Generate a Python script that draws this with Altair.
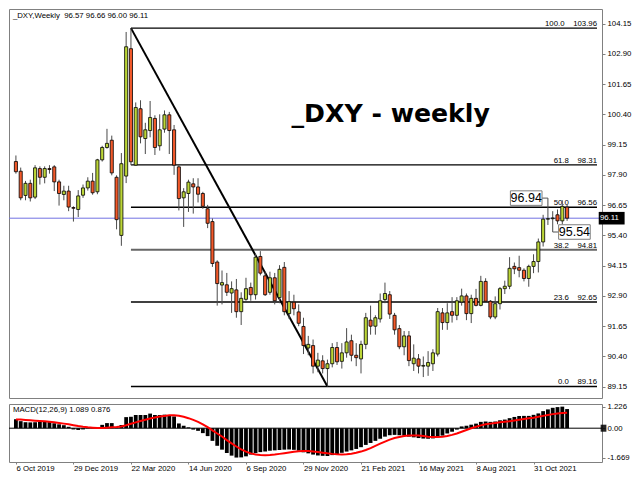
import altair as alt
import pandas as pd

# ---------------- data ----------------
opens = [98.45, 98.05, 97.05, 97.55, 96.98, 98.16, 97.80, 98.16, 98.23, 97.61,
         97.09, 97.23, 96.55, 96.47, 97.06, 97.36, 97.64, 97.20, 98.52, 99.03,
         99.33, 97.80, 95.40, 97.85, 103.11, 98.30, 100.63, 99.40, 99.73, 100.23,
         99.10, 99.79, 100.38, 99.76, 98.23, 96.95, 97.13, 97.53, 97.40, 97.13,
         96.50, 95.97, 94.30, 93.35, 93.36, 93.02, 93.15, 92.25, 92.76, 93.25,
         92.95, 94.53, 93.73, 93.05, 93.65, 92.83, 94.08, 92.17, 92.64, 92.24,
         91.64, 90.75, 90.85, 90.00, 90.22, 89.90, 90.10, 90.77, 90.20, 90.55,
         91.05, 90.45, 90.30, 90.90, 91.90, 91.65, 91.95, 92.75, 92.95, 92.10,
         91.55, 90.80, 91.25, 90.10, 90.30, 90.00, 90.00, 90.10, 90.50, 92.20,
         91.80, 92.25, 92.10, 92.65, 92.90, 92.17, 92.80, 92.51, 93.50, 92.68,
         92.03, 92.58, 93.20, 93.30, 94.12, 94.07, 93.96, 93.62, 94.12, 94.32,
         95.13, 96.07, 96.09, 96.25, 96.00, 96.57]
highs = [98.70, 98.20, 97.65, 97.70, 98.30, 98.25, 98.25, 98.30, 98.30, 97.70,
         97.45, 97.45, 96.60, 97.27, 97.50, 97.80, 97.98, 98.56, 99.10, 99.80,
         99.52, 97.88, 98.80, 103.80, 103.96, 100.89, 100.98, 100.05, 100.95, 100.36,
         100.40, 100.56, 100.50, 99.96, 98.30, 97.35, 97.70, 97.76, 97.76, 97.20,
         96.66, 96.10, 94.37, 93.95, 93.85, 93.50, 93.60, 93.05, 93.65, 93.45,
         94.65, 94.75, 93.90, 93.90, 93.85, 94.17, 94.30, 93.10, 92.95, 92.55,
         92.00, 91.25, 91.10, 90.55, 90.45, 90.27, 90.95, 91.00, 90.95, 91.57,
         91.30, 90.95, 91.05, 92.20, 92.50, 92.10, 93.00, 93.45, 93.10, 92.20,
         91.70, 91.45, 91.45, 90.90, 90.50, 90.40, 90.62, 90.70, 92.40, 92.40,
         92.60, 92.85, 92.85, 93.20, 93.00, 92.95, 93.19, 93.73, 93.63, 92.73,
         92.88, 93.27, 93.53, 94.50, 94.28, 94.56, 94.04, 94.19, 94.62, 95.27,
         96.25, 96.94, 96.40, 96.47, 96.85, 96.66]
lows = [97.95, 96.85, 96.85, 96.80, 96.90, 97.50, 97.55, 97.95, 97.23, 96.63,
        96.85, 96.40, 95.97, 96.16, 96.95, 97.25, 97.08, 97.10, 98.45, 98.98,
        97.88, 95.65, 94.97, 97.56, 98.30, 98.28, 99.20, 98.76, 99.45, 98.72,
        98.90, 99.64, 98.76, 97.90, 96.43, 95.75, 96.37, 96.30, 96.76, 96.50,
        95.70, 94.10, 92.50, 92.55, 92.90, 92.20, 92.00, 91.70, 92.70, 92.70,
        92.75, 93.75, 92.90, 92.95, 92.55, 92.60, 92.10, 91.95, 92.10, 91.65,
        90.50, 90.45, 89.70, 89.75, 89.70, 89.16, 89.95, 90.05, 89.90, 90.35,
        90.20, 90.00, 89.70, 90.70, 91.30, 91.30, 91.80, 92.60, 91.95, 91.30,
        90.70, 90.45, 90.00, 89.80, 89.70, 89.55, 89.60, 89.80, 90.40, 91.50,
        91.50, 91.80, 91.90, 92.50, 91.90, 91.78, 92.47, 92.47, 92.66, 91.94,
        91.94, 92.34, 92.98, 93.18, 93.80, 93.67, 93.50, 93.28, 93.84, 93.87,
        94.94, 95.83, 95.54, 95.86, 95.85, 96.00]
closes = [98.03, 96.95, 97.55, 96.95, 98.19, 97.80, 98.16, 98.12, 97.61, 97.13,
          97.23, 96.57, 96.52, 97.03, 97.36, 97.64, 97.16, 98.52, 99.03, 99.20,
          97.98, 96.05, 98.36, 103.19, 98.44, 100.68, 99.47, 99.76, 100.27, 99.03,
          99.76, 100.38, 99.73, 98.30, 96.92, 97.20, 97.60, 97.40, 97.10, 96.60,
          95.90, 94.24, 93.41, 93.45, 93.05, 93.20, 92.25, 92.80, 93.20, 92.95,
          94.50, 93.84, 92.95, 93.65, 92.70, 94.00, 92.25, 92.66, 92.37, 91.77,
          90.85, 90.90, 90.00, 90.25, 89.90, 90.10, 90.77, 90.18, 90.55, 91.00,
          90.45, 90.35, 90.90, 92.00, 91.65, 92.00, 92.70, 93.00, 92.15, 91.50,
          90.80, 91.25, 90.23, 90.33, 90.00, 90.03, 90.15, 90.55, 92.25, 91.80,
          92.20, 92.10, 92.70, 92.90, 92.17, 92.80, 92.51, 93.50, 92.68, 92.03,
          92.58, 93.20, 93.30, 94.04, 94.02, 93.96, 93.62, 94.12, 94.32, 95.13,
          96.07, 96.09, 96.12, 96.00, 96.60, 96.11]

macd_main = [0.51, 0.40, 0.34, 0.33, 0.34, 0.36, 0.36, 0.35, 0.28, 0.22,
             0.17, 0.08, -0.07, -0.10, -0.07, -0.02, 0.02, 0.06, 0.19, 0.29,
             0.29, 0.05, 0.18, 0.63, 0.65, 0.75, 0.75, 0.75, 0.83, 0.75,
             0.75, 0.77, 0.75, 0.67, 0.27, 0.14, 0.05, -0.08, -0.15, -0.28,
             -0.45, -0.72, -1.00, -1.22, -1.41, -1.56, -1.669, -1.66, -1.60, -1.50,
             -1.42, -1.36, -1.32, -1.28, -1.26, -1.24, -1.22, -1.21, -1.23, -1.28,
             -1.37, -1.43, -1.50, -1.55, -1.57, -1.58, -1.53, -1.47, -1.40, -1.33,
             -1.26, -1.18, -1.08, -0.95, -0.84, -0.72, -0.60, -0.48, -0.40, -0.38,
             -0.40, -0.42, -0.48, -0.52, -0.56, -0.59, -0.60, -0.58, -0.48, -0.42,
             -0.30, -0.20, -0.08, 0.10, 0.14, 0.20, 0.26, 0.36, 0.38, 0.36,
             0.38, 0.45, 0.49, 0.57, 0.64, 0.69, 0.70, 0.70, 0.76, 0.84,
             0.97, 1.07, 1.16, 1.20, 1.226, 1.089]
macd_signal = [0.50, 0.49, 0.47, 0.45, 0.43, 0.41, 0.39, 0.37, 0.34, 0.30,
               0.26, 0.22, 0.17, 0.12, 0.08, 0.05, 0.03, 0.01, 0.01, 0.03,
               0.05, 0.07, 0.10, 0.17, 0.25, 0.33, 0.41, 0.48, 0.55, 0.61,
               0.66, 0.70, 0.73, 0.74, 0.71, 0.65, 0.57, 0.47, 0.36, 0.22,
               0.06, -0.12, -0.30, -0.47, -0.68, -0.86, -1.04, -1.20, -1.33, -1.43,
               -1.50, -1.53, -1.54, -1.53, -1.50, -1.46, -1.42, -1.38, -1.34, -1.31,
               -1.30, -1.30, -1.32, -1.35, -1.39, -1.43, -1.46, -1.48, -1.49, -1.48,
               -1.45, -1.40, -1.33, -1.24, -1.13, -1.00, -0.88, -0.76, -0.65, -0.56,
               -0.50, -0.45, -0.42, -0.41, -0.42, -0.45, -0.48, -0.50, -0.50, -0.48,
               -0.44, -0.38, -0.30, -0.20, -0.10, 0.00, 0.08, 0.16, 0.22, 0.26,
               0.30, 0.34, 0.37, 0.40, 0.44, 0.48, 0.52, 0.56, 0.60, 0.65,
               0.70, 0.75, 0.80, 0.84, 0.86, 0.876]

tick_index = [0, 12, 24, 36, 48, 60, 72, 84, 96, 108]
tick_labels = ["6 Oct 2019", "29 Dec 2019", "22 Mar 2020", "14 Jun 2020", "6 Sep 2020",
               "29 Nov 2020", "21 Feb 2021", "16 May 2021", "8 Aug 2021", "31 Oct 2021"]
price_ticks = [104.15, 102.90, 101.65, 100.40, 99.15, 97.90, 96.65, 95.40,
               94.15, 92.90, 91.65, 90.40, 89.15]
macd_ticks = [1.226, 0.0, -1.669]
macd_tick_labels = ["1.226", "0.00", "-1.669"]

fib_levels = ["100.0", "61.8", "50.0", "38.2", "23.6", "0.0"]
fib_prices = [103.96, 98.31, 96.56, 94.81, 92.65, 89.16]
fib_values = ["103.96", "98.31", "96.56", "94.81", "92.65", "89.16"]

trend_index = [24, 65]
trend_price = [103.96, 89.16]

last_price = 96.11
callout_values = [96.94, 95.54]
callout_bars = [111, 112]
header_text = "_DXY,Weekly\u00a0\u00a096.57 96.66 96.00 96.11"
macd_text = "MACD(12,26,9) 1.089 0.876"
title_text = "_DXY - weekly"

# ---------------- layout ----------------
W, H_MAIN, H_MACD = 593, 389, 58
X_MIN, X_MAX = -0.4, 121.24
FONT = "Liberation Sans"
FS = 7.8

xs = alt.Scale(domain=[X_MIN, X_MAX], nice=False, zero=False)
ys = alt.Scale(domain=[88.685, 104.749], nice=False, zero=False)
ms = alt.Scale(domain=[-1.922, 1.376], nice=False, zero=False)

y_axis_main = alt.Axis(orient="right", values=price_ticks, format=".2f", tickSize=3,
                       labelPadding=2, domain=False, title=None, labelOverlap=False, grid=False)
labels_js = "[" + ",".join("'%s'" % s for s in tick_labels) + "]"
pos_js = "[" + ",".join(str(p) for p in tick_index) + "]"
x_axis_macd = alt.Axis(values=tick_index, labelExpr="%s[indexof(%s, datum.value)]" % (labels_js, pos_js),
                       labelAlign="left", labelBaseline="top", labelFlush=False, tickSize=2,
                       labelPadding=0, domain=False, grid=False, title=None, labelOverlap=False)
mlab_js = "[" + ",".join("'%s'" % s for s in macd_tick_labels) + "]"
mpos_js = "[" + ",".join(str(p) for p in macd_ticks) + "]"
y_axis_macd = alt.Axis(orient="right", values=macd_ticks,
                       labelExpr="%s[indexof(%s, datum.value)]" % (mlab_js, mpos_js),
                       tickSize=3, labelPadding=2, domain=False, title=None, grid=False,
                       labelOverlap=False, labelBound=False, zindex=0)


def XM(f):
    return alt.X(f + ":Q", scale=xs, axis=None)


def YP(f):
    return alt.Y(f + ":Q", scale=ys, axis=y_axis_main)


def XB(f):
    return alt.X(f + ":Q", scale=xs, axis=x_axis_macd)


def YM(f):
    return alt.Y(f + ":Q", scale=ms, axis=y_axis_macd)


n = len(closes)
candles = pd.DataFrame({
    "idx": list(range(n)), "open": opens, "high": highs, "low": lows, "close": closes,
})
candles["dir"] = ["up" if c >= o else "down" for o, c in zip(opens, closes)]

macd_df = pd.DataFrame({"idx": list(range(n)), "macd": macd_main, "signal": macd_signal})

fib_df = pd.DataFrame({"level": fib_levels, "price": fib_prices, "value": fib_values})
fib_df["start"] = trend_index[0]
fib_df["end"] = X_MAX
fib_df["label"] = fib_df["level"] + "\u00a0\u00a0\u00a0\u00a0" + fib_df["value"]

trend_df = pd.DataFrame({"idx": trend_index, "price": trend_price})

# callout boxes (first one left of its bar, second right of its bar)
box_w, gap, half_h = 6.6, 1.23, 0.30
cb = []
for k, (v, b) in enumerate(zip(callout_values, callout_bars)):
    if k == 0:
        x2 = b - gap
        x1 = x2 - box_w
        edge = x2
    else:
        x1 = b + gap
        x2 = x1 + box_w
        edge = x1
    cb.append({"value": v, "bar": b, "x1": x1, "x2": x2, "edge": edge,
               "xc": (x1 + x2) / 2, "lo": v - half_h, "hi": v + half_h,
               "txt": "%.2f" % v})
callout_df = pd.DataFrame(cb)

last_df = pd.DataFrame({"p": [last_price], "lo": [last_price - 0.26], "hi": [last_price + 0.26],
                        "x1": [121.6], "x2": [127.0], "xt": [121.85],
                        "txt": ["%.2f" % last_price]})

# ---------------- main panel ----------------
fib_rules = alt.Chart(fib_df).mark_rule().encode(
    x=XM("start"), x2="end", y=YP("price"),
    color=alt.condition("datum.level == '38.2'", alt.value("#666666"), alt.value("black")),
    strokeWidth=alt.condition("datum.level == '38.2'", alt.value(2), alt.value(1.4)),
)
fib_text = alt.Chart(fib_df).mark_text(align="right", baseline="alphabetic", dy=-2,
                                       font=FONT, fontSize=FS, color="black").encode(
    x=XM("end"), y=YP("price"), text="label:N")

blue_line = alt.Chart(last_df).mark_rule(color="#7272E2", strokeWidth=1).encode(y=YP("p"))

trend = alt.Chart(trend_df).mark_line(color="black", strokeWidth=2).encode(
    x=XM("idx"), y=YP("price"))

wicks = alt.Chart(candles).mark_rule(color="#4a4a4a", strokeWidth=1).encode(
    x=XM("idx"), y=YP("low"), y2="high")
bodies = alt.Chart(candles).mark_bar(width=3.1, stroke="black", strokeWidth=0.8).encode(
    x=XM("idx"), y=YP("open"), y2="close",
    color=alt.Color("dir:N", scale=alt.Scale(domain=["up", "down"], range=["#BCD637", "#F2592A"]),
                    legend=None))

conn = alt.Chart(callout_df).mark_rule(color="#555555", strokeWidth=1).encode(
    x=XM("bar"), x2="edge", y=YP("value"))
boxes = alt.Chart(callout_df).mark_rect(fill="white", stroke="#7f7f7f", strokeWidth=1).encode(
    x=XM("x1"), x2="x2", y=YP("lo"), y2="hi")
box_text = alt.Chart(callout_df).mark_text(font=FONT, fontSize=12.5, color="black",
                                           baseline="middle", align="center").encode(
    x=XM("xc"), y=YP("value"), text="txt:N")

price_box = alt.Chart(last_df).mark_rect(fill="black").encode(
    x=XM("x1"), x2="x2", y=YP("lo"), y2="hi")
price_txt = alt.Chart(last_df).mark_text(font=FONT, fontSize=FS, color="white",
                                         align="left", baseline="middle").encode(
    x=XM("xt"), y=YP("p"), text="txt:N")

header = alt.Chart(pd.DataFrame({"t": [header_text]})).mark_text(
    font=FONT, fontSize=FS, align="left", baseline="middle", color="black").encode(
    x=alt.value(3.9), y=alt.value(7.1), text="t:N")
title = alt.Chart(pd.DataFrame({"t": [title_text]})).mark_text(
    font="DejaVu Sans", fontSize=25.2, fontWeight="bold", align="center",
    baseline="alphabetic", color="black").encode(
    x=alt.value(381.7), y=alt.value(112.8), text="t:N")

main = alt.layer(fib_rules, fib_text, blue_line, trend, wicks, bodies, conn, boxes,
                 box_text, price_box, price_txt, header, title).properties(width=W, height=H_MAIN)

# ---------------- MACD panel ----------------
zero_df = pd.DataFrame({"z": [0.0], "bx1": [122.0], "bx2": [123.2], "lo": [-0.2], "hi": [0.2]})
zero_rule = alt.Chart(zero_df).mark_rule(color="black", strokeWidth=1).encode(y=YM("z"))
hist = alt.Chart(macd_df).mark_bar(width=3.8, color="black").encode(
    x=XB("idx"), y=YM("macd"), y2=alt.datum(0))
signal = alt.Chart(macd_df).mark_line(color="#FF0000", strokeWidth=2).encode(
    x=XB("idx"), y=YM("signal"))
zero_box = alt.Chart(zero_df).mark_rect(fill="black", opacity=0.85).encode(
    x=XB("bx1"), x2="bx2", y=YM("lo"), y2="hi")
macd_head = alt.Chart(pd.DataFrame({"t": [macd_text]})).mark_text(
    font=FONT, fontSize=FS, align="left", baseline="middle", color="black").encode(
    x=alt.value(3.9), y=alt.value(6.0), text="t:N")

macd = alt.layer(zero_rule, hist, signal, zero_box, macd_head).properties(
    width=W, height=H_MACD)

chart = alt.vconcat(main, macd, spacing=3).properties(
    padding=0, background="white"
).configure_view(stroke="#808080", strokeWidth=1).configure_axis(
    labelFont=FONT, labelFontSize=FS, labelColor="black", tickColor="#808080",
    domainColor="#808080")

chart.save("out.html", embed_options={"renderer": "svg", "actions": False})
